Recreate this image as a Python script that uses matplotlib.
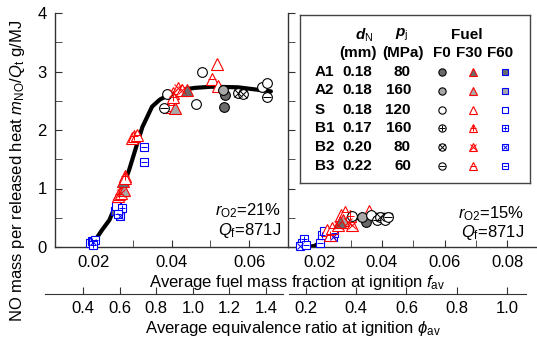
import matplotlib
matplotlib.use("Agg")
import matplotlib.pyplot as plt
from matplotlib.ticker import MultipleLocator

plt.rcParams['font.family'] = ['Liberation Sans', 'DejaVu Sans']
plt.rcParams['mathtext.fontset'] = 'custom'
plt.rcParams['mathtext.rm'] = 'Liberation Sans'
plt.rcParams['mathtext.it'] = 'Liberation Sans:italic'
plt.rcParams['mathtext.bf'] = 'Liberation Sans:bold'
try:
    plt.rcParams['mathtext.bfit'] = 'Liberation Sans:bold:italic'
except Exception:
    pass

# ---------------- data ----------------
# legend table
cond_names = ['A1', 'A2', 'S', 'B1', 'B2', 'B3']
nozzle_d = ['0.18', '0.18', '0.18', '0.17', '0.20', '0.22']
inj_p = ['80', '160', '120', '160', '80', '60']
fuels = ['F0', 'F30', 'F60']

# r_O2 = 21 % panel
f21 = [0.0190, 0.0195, 0.0199, 0.0203, 0.0197,
       0.0255, 0.0260, 0.0258, 0.0272, 0.0268, 0.0263,
       0.0329, 0.0329,
       0.0263, 0.0266, 0.0269, 0.0277, 0.0276, 0.0279, 0.0281,
       0.0298, 0.0303, 0.0310,
       0.0388, 0.0380,
       0.0393, 0.0398, 0.0410, 0.0405, 0.0418, 0.0427, 0.0404, 0.0439,
       0.0462, 0.0479,
       0.0516, 0.0504, 0.0521,
       0.0535, 0.0538, 0.0532,
       0.0570, 0.0585,
       0.0632, 0.0645, 0.0645]
v21 = [0.06, 0.11, 0.08, 0.12, 0.03,
       0.62, 0.75, 0.70, 0.67, 0.53, 0.57,
       1.71, 1.45,
       0.87, 0.90, 0.93, 0.97, 1.13, 1.22, 1.18,
       1.86, 1.90, 1.92,
       2.62, 2.38,
       2.40, 2.42, 2.38, 2.63, 2.72, 2.69, 2.57, 2.69,
       2.44, 2.99,
       3.13, 2.87, 2.75,
       2.40, 2.60, 2.68,
       2.64, 2.61,
       2.73, 2.80, 2.57]
cond21 = ['S', 'B1', 'B2', 'B3', 'B1',
          'A1', 'A2', 'S', 'B1', 'B2', 'B3',
          'B3', 'B3',
          'S', 'B1', 'B2', 'A2', 'A1', 'B1', 'S',
          'S', 'B1', 'B3',
          'S', 'B3',
          'S', 'B3', 'A2', 'B2', 'B2', 'B2', 'B1', 'A1',
          'S', 'S',
          'S', 'B3', 'S',
          'A1', 'A1', 'A2',
          'B2', 'B2',
          'S', 'S', 'B3']
fuel21 = ['F60'] * 13 + ['F30'] * 10 + ['F0'] * 2 + ['F30'] * 8 + ['F0'] * 2 + \
         ['F30'] * 3 + ['F0'] * 8

# r_O2 = 15 % panel
f15 = [0.0145, 0.0151, 0.0138, 0.0158, 0.0202, 0.0209, 0.0215, 0.0244, 0.0247,
       0.0225, 0.0234, 0.0241, 0.0260, 0.0270, 0.0282, 0.0292, 0.0305, 0.0298,
       0.0276, 0.0266, 0.0360,
       0.0350, 0.0337, 0.0305, 0.0366, 0.0385, 0.0394, 0.0410, 0.0420]
v15 = [0.07, 0.14, 0.02, 0.03, 0.07, 0.20, 0.27, 0.17, 0.24,
       0.29, 0.20, 0.32, 0.38, 0.55, 0.60, 0.43, 0.38, 0.53,
       0.46, 0.43, 0.62,
       0.43, 0.51, 0.53, 0.55, 0.46, 0.51, 0.46, 0.51]
cond15 = ['S', 'B1', 'B2', 'B3', 'B3', 'B1', 'S', 'B2', 'B3',
          'S', 'B1', 'B3', 'B2', 'S', 'B3', 'B2', 'B2', 'B1',
          'A2', 'A1', 'S',
          'A1', 'A2', 'S', 'S', 'B3', 'B2', 'S', 'B3']
fuel15 = ['F60'] * 9 + ['F30'] * 12 + ['F0'] * 8

# fitted trend lines
curve21_f = [0.0205, 0.0220, 0.0240, 0.0266, 0.0291, 0.0309, 0.0325, 0.0350,
             0.0370, 0.0393, 0.0429, 0.0460, 0.0503, 0.0571, 0.0656]
curve21_v = [0.13, 0.28, 0.46, 0.86, 1.32, 1.71, 2.05, 2.40,
             2.52, 2.60, 2.69, 2.72, 2.74, 2.73, 2.66]
curve15_f = [0.0142, 0.0165, 0.0185, 0.0203, 0.0235, 0.0270, 0.0303, 0.0334,
             0.0378, 0.0430]
curve15_v = [0.05, 0.00, 0.02, 0.07, 0.22, 0.40, 0.46, 0.52, 0.55, 0.55]

# axis ticks
f_ticks_left = [0.02, 0.04, 0.06]
f_ticks_right = [0.02, 0.04, 0.06, 0.08]
phi_ticks_left = [0.4, 0.6, 0.8, 1.0, 1.2, 1.4]
phi_ticks_right = [0.2, 0.4, 0.6, 0.8, 1.0]
y_ticks = [0, 1, 2, 3, 4]

# ---------------- styling ----------------
fuel_marker = {'F0': 'o', 'F30': '^', 'F60': 's'}
fuel_color = {'F0': 'black', 'F30': '#ff0000', 'F60': '#0000ff'}
fuel_ms = {'F0': 7.0, 'F30': 8.0, 'F60': 6.0}
cond_face = {'A1': '#6a6a6a', 'A2': '#a8a8a8', 'S': 'white',
             'B1': 'white', 'B2': 'white', 'B3': 'white'}
cond_overlay = {'B1': '+', 'B2': 'x', 'B3': '_'}


def draw_marker(ax, x, y, cond, fuel, scale=1.0):
    ms = fuel_ms[fuel] * scale
    col = fuel_color[fuel]
    ax.plot([x], [y], linestyle='none', marker=fuel_marker[fuel], ms=ms,
            mfc=cond_face[cond], mec=col, mew=0.8, zorder=3, clip_on=False)
    if cond in cond_overlay:
        ax.plot([x], [y], linestyle='none', marker=cond_overlay[cond],
                ms=ms * 0.75, mec=col, mew=0.7, zorder=4, clip_on=False)


W, H = 537, 340
fig = plt.figure(figsize=(W / 100, H / 100), dpi=100)


def fr(x0, y_top, x1, y_bot):
    return [x0 / W, 1 - y_bot / H, (x1 - x0) / W, (y_bot - y_top) / H]


axL = fig.add_axes(fr(55, 13, 288, 247))
axR = fig.add_axes(fr(288, 13, 537.5, 247))

for ax, xlim, xt in [(axL, (0.01, 0.07), f_ticks_left), (axR, (0.01, 0.0897), f_ticks_right)]:
    ax.set_xlim(*xlim)
    ax.set_ylim(0, 4)
    for s in ['top', 'right']:
        ax.spines[s].set_visible(False)
    for s in ['left', 'bottom']:
        ax.spines[s].set_linewidth(1.0)
        ax.spines[s].set_color('#333333')
    ax.set_xticks(xt)
    ax.set_xticklabels([f'{t:.2f}' for t in xt])
    ax.xaxis.set_minor_locator(MultipleLocator(0.01))
    ax.set_yticks(y_ticks)
    ax.yaxis.set_minor_locator(MultipleLocator(0.5))
    ax.tick_params(which='both', direction='in', labelsize=12, color='#333333')
    ax.tick_params(which='major', length=5, pad=6)
    ax.tick_params(which='minor', length=5)
    ax.patch.set_alpha(0)

axR.tick_params(axis='y', labelleft=False)

# trend lines
axL.plot(curve21_f, curve21_v, color='black', lw=3, solid_capstyle='round', zorder=2)
axR.plot(curve15_f, curve15_v, color='black', lw=3, solid_capstyle='round', zorder=2)

order = {'F60': 0, 'F30': 1, 'F0': 2}
for ax, fs, vs, cs, fu in [(axL, f21, v21, cond21, fuel21), (axR, f15, v15, cond15, fuel15)]:
    idx = sorted(range(len(fs)), key=lambda i: order[fu[i]])
    for i in idx:
        draw_marker(ax, fs[i], vs[i], cs[i], fu[i])

# annotations
fig.text(281 / W, 1 - 211 / H, r'$r_{\mathrm{O2}}$=21%', ha='right', va='center', fontsize=12)
fig.text(281 / W, 1 - 231 / H, r'$Q_{\mathrm{f}}$=871J', ha='right', va='center', fontsize=12)
fig.text(524 / W, 1 - 214 / H, r'$r_{\mathrm{O2}}$=15%', ha='right', va='center', fontsize=12)
fig.text(524 / W, 1 - 233 / H, r'$Q_{\mathrm{f}}$=871J', ha='right', va='center', fontsize=12)

# phi axes
for (x0, x1, lim, ticks) in [(45, 283, (0.192, 1.493), phi_ticks_left),
                              (289, 526, (0.132, 1.076), phi_ticks_right)]:
    pax = fig.add_axes(fr(x0, 293.5, x1, 294))
    pax.set_xlim(*lim)
    pax.set_ylim(0, 1)
    for s in ['top', 'right', 'left']:
        pax.spines[s].set_visible(False)
    pax.spines['bottom'].set_color('#333333')
    pax.set_yticks([])
    pax.set_xticks(ticks)
    pax.set_xticklabels([f'{t:.1f}' for t in ticks])
    pax.tick_params(axis='x', direction='in', length=5, pad=5, labelsize=12, color='#333333')
    pax.patch.set_alpha(0)

# axis labels
fig.text(297 / W, 1 - 283 / H, r'Average fuel mass fraction at ignition $f_{\mathrm{av}}$',
         ha='center', va='center', fontsize=12)
fig.text(293 / W, 1 - 329 / H, r'Average equivalence ratio at ignition $\phi_{\mathrm{av}}$',
         ha='center', va='center', fontsize=12)
fig.text(18 / W, 1 - 171 / H, r'NO mass per released heat $m_{\mathrm{NO}}/Q_{\mathrm{t}}$ g/MJ',
         ha='center', va='center', rotation=90, fontsize=12)

# legend box
lax = fig.add_axes(fr(300, 15, 530, 183))
lax.set_xlim(300, 530)
lax.set_ylim(183, 15)
lax.set_xticks([])
lax.set_yticks([])
for s in lax.spines.values():
    s.set_color('#444444')
    s.set_linewidth(1.0)
lax.patch.set_facecolor('white')

fs_leg = 11
lax.text(364, 35, r'$\mathbfit{d}_{\mathrm{N}}$', ha='center', va='center', fontsize=fs_leg)
lax.text(402, 35, r'$\mathbfit{p}_{\mathrm{j}}$', ha='center', va='center', fontsize=fs_leg)
lax.text(467, 35, 'Fuel', ha='center', va='center', fontsize=fs_leg, fontweight='bold')
lax.text(358, 53, '(mm)', ha='center', va='center', fontsize=fs_leg, fontweight='bold')
lax.text(403, 53, '(MPa)', ha='center', va='center', fontsize=fs_leg, fontweight='bold')
for name, xc in zip(fuels, [442, 469, 500]):
    lax.text(xc, 53, name, ha='center', va='center', fontsize=fs_leg, fontweight='bold')

row_y = [72, 90.5, 109.5, 128, 147, 165.5]
mk_x = {'F0': 442, 'F30': 473, 'F60': 505}
for c, d, p, y in zip(cond_names, nozzle_d, inj_p, row_y):
    lax.text(315, y, c, ha='left', va='center', fontsize=fs_leg, fontweight='bold')
    lax.text(357, y, d, ha='center', va='center', fontsize=fs_leg, fontweight='bold')
    lax.text(411, y, p, ha='right', va='center', fontsize=fs_leg, fontweight='bold')
    for fu in fuels:
        draw_marker(lax, mk_x[fu], y, c, fu, scale=0.75)

fig.savefig('out.png', dpi=100)
